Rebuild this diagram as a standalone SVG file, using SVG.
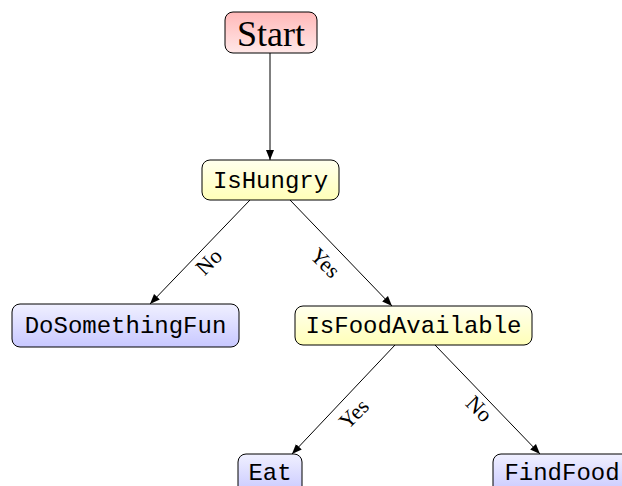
<svg xmlns="http://www.w3.org/2000/svg" width="622" height="486" viewBox="0 0 622 486">
<defs>
<linearGradient id="gPink" x1="0" y1="0" x2="0" y2="1"><stop offset="0" stop-color="#ffb8b8"/><stop offset="1" stop-color="#ffe8e8"/></linearGradient>
<linearGradient id="gYel" x1="0" y1="0" x2="0" y2="1"><stop offset="0" stop-color="#ffffee"/><stop offset="1" stop-color="#ffffb8"/></linearGradient>
<linearGradient id="gBlue" x1="0" y1="0" x2="0" y2="1"><stop offset="0" stop-color="#f0f0ff"/><stop offset="1" stop-color="#c8c8ff"/></linearGradient>
<marker id="arr" viewBox="0 0 10 10" refX="10" refY="5" markerWidth="10" markerHeight="10" markerUnits="userSpaceOnUse" orient="auto"><path d="M0,1 L10,5 L0,9 Z" fill="#000"/></marker>
</defs>
<style>
.box{stroke:#000;stroke-width:1}
.mono{font-family:"Liberation Mono",monospace;font-size:24px;fill:#000}
.lbl{font-family:"Liberation Serif",serif;font-size:22px;fill:#000}
.edge{stroke:#000;stroke-width:1;fill:none;marker-end:url(#arr)}
</style>
<g id="connectors">
<line class="edge" x1="250" y1="200" x2="150" y2="304"/>
<line class="edge" x1="270" y1="53" x2="270" y2="160"/>
<line class="edge" x1="290" y1="200" x2="392" y2="306"/>
<line class="edge" x1="395" y1="345" x2="292" y2="454"/>
<line class="edge" x1="435" y1="345" x2="540" y2="454"/>
<text class="lbl" transform="translate(214,267) rotate(-45)" text-anchor="middle">No</text>
<text class="lbl" transform="translate(320,268) rotate(45)" text-anchor="middle">Yes</text>
<text class="lbl" transform="translate(359,419) rotate(-45)" text-anchor="middle">Yes</text>
<text class="lbl" transform="translate(474,414) rotate(45)" text-anchor="middle">No</text>
</g>
<g id="Start"><rect class="box" x="225" y="12" width="92" height="41" rx="8" fill="url(#gPink)"/><text x="271" y="46" text-anchor="middle" font-family="Liberation Serif, serif" font-size="36">Start</text></g>
<g id="IsHungry"><rect class="box" x="202" y="160" width="137" height="40" rx="8" fill="url(#gYel)"/><text class="mono" x="270.5" y="188" text-anchor="middle">IsHungry</text></g>
<g id="DoSomethingFun"><rect class="box" x="12" y="304" width="227" height="43" rx="8" fill="url(#gBlue)"/><text class="mono" x="125.5" y="333" text-anchor="middle">DoSomethingFun</text></g>
<g id="IsFoodAvailable"><rect class="box" x="295" y="306" width="237" height="39" rx="8" fill="url(#gYel)"/><text class="mono" x="413.5" y="333" text-anchor="middle">IsFoodAvailable</text></g>
<g id="Eat"><rect class="box" x="238" y="454" width="64" height="40" rx="8" fill="url(#gBlue)"/><text class="mono" x="270" y="480" text-anchor="middle">Eat</text></g>
<g id="FindFood"><rect class="box" x="493" y="454" width="140" height="40" rx="8" fill="url(#gBlue)"/><text class="mono" x="562" y="480" text-anchor="middle">FindFood</text></g>
</svg>
